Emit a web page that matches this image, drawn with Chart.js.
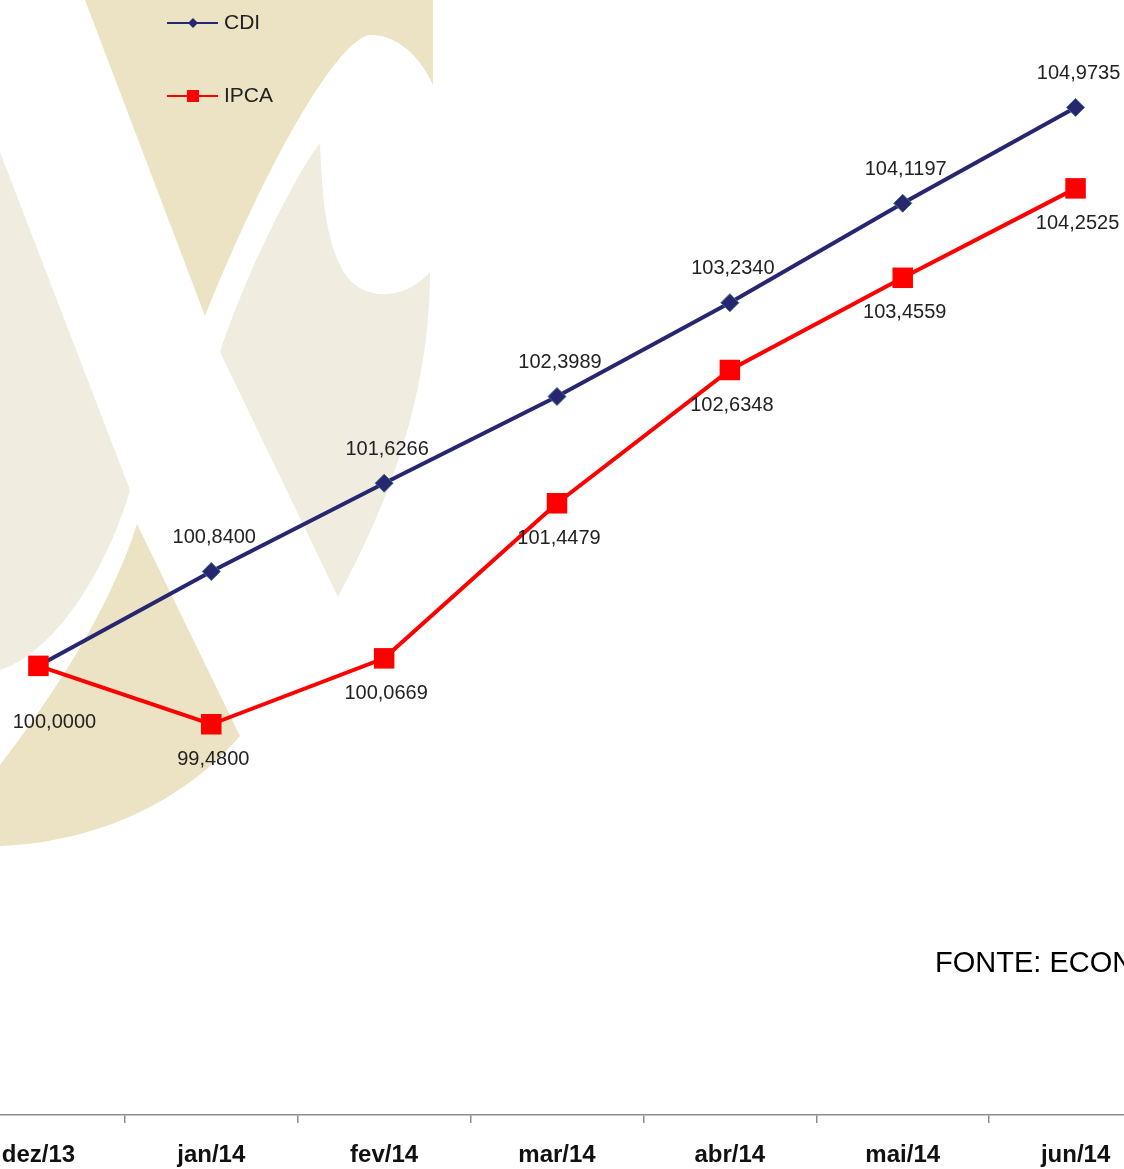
<!DOCTYPE html>
<html lang="pt-BR">
<head>
<meta charset="UTF-8">
<title>CDI x IPCA</title>
<script src="https://cdn.jsdelivr.net/npm/chart.js@4.4.1/dist/chart.umd.min.js"></script>
<style>
    html, body {
        margin: 0;
        padding: 0;
        background: #ffffff;
    }

    #wrap {
        position: relative;
        width: 1124px;
        height: 1169px;
        overflow: hidden;
    }

    #grafico {
        position: absolute;
        left: -48px;
        top: 0;
    }
</style>
</head>
<body>

<div id="wrap">
    <canvas id="grafico" width="1210" height="1169"></canvas>
</div>

<script>
// ==============================
// Dados
// ==============================

const meses = ["dez/13", "jan/14", "fev/14", "mar/14", "abr/14", "mai/14", "jun/14"];

const cdi = [100.0000, 100.8400, 101.6266, 102.3989, 103.2340, 104.1197, 104.9735];

const ipca = [100.0000, 99.4800, 100.0669, 101.4479, 102.6348, 103.4559, 104.2525];

const fonte = "FONTE: ECONOMATICA";

// ==============================
// Cores e fontes
// ==============================

const AZUL = "#262671";
const VERMELHO = "#ff0000";
const BEGE_ESCURO = "#ebe3c3";
const BEGE_CLARO = "#f1ece0";
const FONTE_TEXTO = "'Liberation Sans', Arial, sans-serif";

// o canvas começa 48px à esquerda da página
const DESLOC = 48;

function formatar(v) {
    return v.toFixed(4).replace(".", ",");
}

// ==============================
// Marca d'água (logo ao fundo)
// ==============================

const marcaDagua = {
    id: "marcaDagua",
    beforeDraw(chart) {
        const ctx = chart.ctx;
        ctx.save();
        ctx.translate(DESLOC, 0);

        // parte escura de cima
        ctx.fillStyle = BEGE_ESCURO;
        ctx.beginPath();
        ctx.moveTo(85, 0);
        ctx.lineTo(433, 0);
        ctx.lineTo(433, 85);
        ctx.bezierCurveTo(420, 55, 395, 34, 370, 35);
        ctx.bezierCurveTo(340, 38, 272, 150, 205, 316);
        ctx.closePath();
        ctx.fill();

        // parte escura de baixo
        ctx.beginPath();
        ctx.moveTo(137, 524);
        ctx.lineTo(240, 736);
        ctx.bezierCurveTo(185, 800, 100, 842, 0, 846);
        ctx.lineTo(0, 765);
        ctx.bezierCurveTo(50, 700, 110, 610, 137, 524);
        ctx.closePath();
        ctx.fill();

        // parte clara da esquerda
        ctx.fillStyle = BEGE_CLARO;
        ctx.beginPath();
        ctx.moveTo(0, 152);
        ctx.lineTo(130, 490);
        ctx.bezierCurveTo(110, 560, 60, 650, 0, 670);
        ctx.closePath();
        ctx.fill();

        // parte clara da direita ("c")
        ctx.beginPath();
        ctx.moveTo(320, 143);
        ctx.bezierCurveTo(300, 168, 250, 262, 220, 352);
        ctx.lineTo(338, 597);
        ctx.bezierCurveTo(385, 510, 430, 400, 430, 272);
        ctx.bezierCurveTo(400, 305, 355, 300, 340, 265);
        ctx.bezierCurveTo(325, 235, 322, 190, 320, 143);
        ctx.closePath();
        ctx.fill();

        ctx.restore();
    }
};

// ==============================
// Rótulos, legenda e fonte
// ==============================

const rotulos = {
    id: "rotulos",
    afterDatasetsDraw(chart) {
        const ctx = chart.ctx;
        ctx.save();
        ctx.font = "20px " + FONTE_TEXTO;
        ctx.fillStyle = "#222222";
        ctx.textAlign = "center";
        ctx.textBaseline = "middle";

        // CDI: acima do ponto (o primeiro fica sem rótulo)
        chart.getDatasetMeta(1).data.forEach((p, i) => {
            if (i === 0) return;
            ctx.fillText(formatar(cdi[i]), p.x + 3, p.y - 34);
        });

        // IPCA: abaixo do ponto
        chart.getDatasetMeta(0).data.forEach((p, i) => {
            if (i === 0) {
                ctx.fillText(formatar(ipca[i]), p.x + 16, p.y + 57);
                return;
            }
            ctx.fillText(formatar(ipca[i]), p.x + 2, p.y + 35);
        });

        // legenda
        ctx.translate(DESLOC, 0);
        ctx.textAlign = "left";
        ctx.font = "21px " + FONTE_TEXTO;

        ctx.lineWidth = 2;
        ctx.strokeStyle = AZUL;
        ctx.beginPath();
        ctx.moveTo(167, 23);
        ctx.lineTo(218, 23);
        ctx.stroke();
        ctx.fillStyle = AZUL;
        ctx.beginPath();
        ctx.moveTo(193, 18);
        ctx.lineTo(198, 23);
        ctx.lineTo(193, 28);
        ctx.lineTo(188, 23);
        ctx.closePath();
        ctx.fill();
        ctx.fillStyle = "#222222";
        ctx.fillText("CDI", 224, 23);

        ctx.strokeStyle = VERMELHO;
        ctx.beginPath();
        ctx.moveTo(167, 96);
        ctx.lineTo(218, 96);
        ctx.stroke();
        ctx.fillStyle = VERMELHO;
        ctx.fillRect(187, 90, 12, 12);
        ctx.fillStyle = "#222222";
        ctx.fillText("IPCA", 224, 96);

        // fonte dos dados
        ctx.font = "29px " + FONTE_TEXTO;
        ctx.fillStyle = "#000000";
        ctx.fillText(fonte, 935, 964);

        ctx.restore();
    }
};

// ==============================
// Gráfico
// ==============================

new Chart(document.getElementById("grafico"), {
    type: "line",
    data: {
        labels: meses,
        datasets: [
            {
                label: "IPCA",
                data: ipca,
                borderColor: VERMELHO,
                backgroundColor: VERMELHO,
                borderWidth: 4,
                pointStyle: "rect",
                pointRadius: 14.5,
                pointBorderWidth: 0,
                pointBackgroundColor: VERMELHO,
                tension: 0,
                clip: false,
                order: 1
            },
            {
                label: "CDI",
                data: cdi,
                borderColor: AZUL,
                backgroundColor: AZUL,
                borderWidth: 4,
                pointStyle: "rectRot",
                pointRadius: 9,
                pointBorderWidth: 1,
                pointBorderColor: "#3d6f82",
                pointBackgroundColor: AZUL,
                tension: 0,
                clip: false,
                order: 2
            }
        ]
    },
    options: {
        responsive: false,
        animation: false,
        layout: {
            padding: 0,
            autoPadding: false
        },
        plugins: {
            legend: {
                display: false
            },
            tooltip: {
                enabled: false
            }
        },
        scales: {
            x: {
                offset: true,
                // eixo com altura fixa: linha do eixo em y = 1115
                afterFit(scale) {
                    scale.height = 54;
                },
                grid: {
                    offset: true,
                    drawOnChartArea: false,
                    drawTicks: true,
                    tickLength: 8,
                    color: "#8c8c8c",
                    lineWidth: 1.5
                },
                border: {
                    display: true,
                    color: "#8c8c8c",
                    width: 1.5
                },
                ticks: {
                    color: "#111111",
                    padding: 18,
                    maxRotation: 0,
                    autoSkip: false,
                    font: {
                        family: FONTE_TEXTO,
                        size: 24,
                        weight: "bold"
                    }
                }
            },
            y: {
                display: false,
                min: 96,
                max: 105.93
            }
        }
    },
    plugins: [marcaDagua, rotulos]
});
</script>

</body>
</html>
